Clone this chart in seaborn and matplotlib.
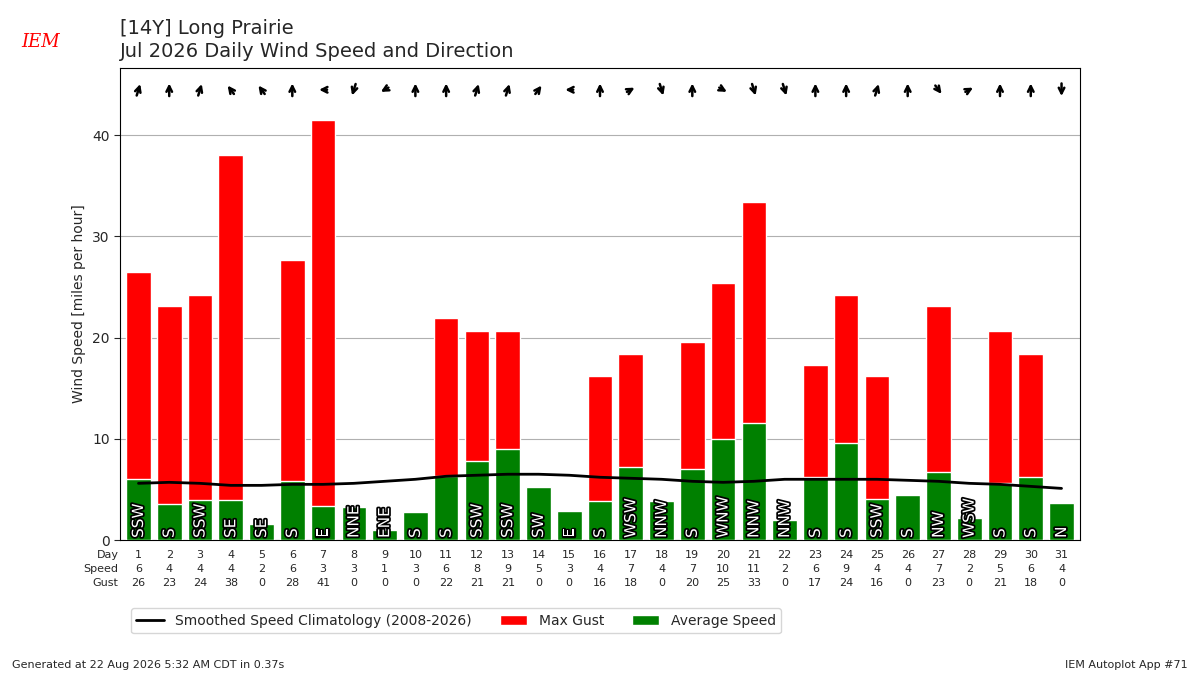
import numpy as np
import pandas as pd
import matplotlib
matplotlib.use("Agg")
import matplotlib.pyplot as plt
import matplotlib.patheffects as pe
import seaborn as sns

days = list(range(1, 32))
avg_speed = [6.0, 3.6, 4.0, 4.0, 1.6, 5.8, 3.4, 3.3, 1.0, 2.8, 6.3, 7.8, 9.0, 5.2, 2.9, 3.9,
             7.2, 3.9, 7.0, 10.0, 11.6, 2.0, 6.2, 9.6, 4.1, 4.4, 6.7, 2.2, 5.6, 6.2, 3.7]
max_gust = [26.5, 23.1, 24.2, 38.1, 0, 27.7, 41.5, 0, 0, 0, 21.9, 20.7, 20.7, 0, 0, 16.2,
            18.4, 0, 19.6, 25.4, 33.4, 0, 17.3, 24.2, 16.2, 0, 23.1, 0, 20.7, 18.4, 0]
clim = [5.6, 5.7, 5.6, 5.4, 5.4, 5.5, 5.5, 5.6, 5.8, 6.0, 6.3, 6.4, 6.5, 6.5, 6.4, 6.2,
        6.1, 6.0, 5.8, 5.7, 5.8, 6.0, 6.0, 6.0, 6.0, 5.9, 5.8, 5.6, 5.5, 5.3, 5.1]
directions = ["SSW", "S", "SSW", "SE", "SE", "S", "E", "NNE", "ENE", "S", "S", "SSW", "SSW", "SW",
              "E", "S", "WSW", "NNW", "S", "WNW", "NNW", "NNW", "S", "S", "SSW", "S", "NW",
              "WSW", "S", "S", "N"]
speed_lbl = [6, 4, 4, 4, 2, 6, 3, 3, 1, 3, 6, 8, 9, 5, 3, 4, 7, 4, 7, 10, 11, 2, 6, 9, 4, 4, 7, 2, 5, 6, 4]
gust_lbl = [26, 23, 24, 38, 0, 28, 41, 0, 0, 0, 22, 21, 21, 0, 0, 16, 18, 0, 20, 25, 33, 0, 17, 24, 16,
            0, 23, 0, 21, 18, 0]

compass = ["N", "NNE", "NE", "ENE", "E", "ESE", "SE", "SSE", "S", "SSW", "SW", "WSW", "W", "WNW", "NW", "NNW"]

df = pd.DataFrame({"day": days, "avg": avg_speed, "gust": max_gust, "clim": clim})

sns.set_style("white")
plt.rcParams["font.family"] = ["DejaVu Sans"]
fig = plt.figure(figsize=(12, 6.75), dpi=100)
ax = fig.add_axes([0.1, 0.2, 0.8, 0.7])

sns.barplot(data=df, x="day", y="gust", color="red", saturation=1, width=0.8, ax=ax,
            label="Max Gust", zorder=2)
sns.barplot(data=df, x="day", y="avg", color="green", saturation=1, width=0.8, ax=ax,
            label="Average Speed", zorder=3)
xs = np.arange(len(days))
sns.lineplot(x=xs, y=df["clim"], color="black", lw=2, ax=ax, zorder=4,
             label="Smoothed Speed Climatology (2008-2026)")

for i, d in enumerate(directions):
    ax.text(i, 0.2, d, rotation=90, ha="center", va="bottom", color="white", fontsize=11,
            zorder=5, path_effects=[pe.withStroke(linewidth=2.5, foreground="black")])
    ang = np.deg2rad(compass.index(d) * 22.5 + 180)
    dx, dy = np.sin(ang), np.cos(ang)
    ax.annotate("", xy=(i + 0.22 * dx, 44.5 + 0.9 * dy), xytext=(i - 0.22 * dx, 44.5 - 0.9 * dy),
                arrowprops=dict(arrowstyle="->", lw=1.8, color="black"))

ax.set_xlim(-0.6, len(days) - 0.4)
ax.set_ylim(0, 46.7)
ax.set_yticks([0, 10, 20, 30, 40])
ax.yaxis.grid(True, color="#b0b0b0", zorder=0)
ax.set_axisbelow(True)
ax.set_xticks([])
ax.set_xlabel("")
ax.set_ylabel("Wind Speed [miles per hour]")
for s in ax.spines.values():
    s.set_color("black")
ax.tick_params(axis="y", left=True, length=4)

trans = ax.get_xaxis_transform()
for row, (name, vals) in enumerate([("Day", days), ("Speed", speed_lbl), ("Gust", gust_lbl)]):
    y = -0.032 - row * 0.03
    ax.text(-0.65, y, name, ha="right", va="center", fontsize=8, transform=trans)
    for i, v in enumerate(vals):
        ax.text(i, y, str(v), ha="center", va="center", fontsize=8, transform=trans)

h, l = ax.get_legend_handles_labels()
order = [l.index("Smoothed Speed Climatology (2008-2026)"), l.index("Max Gust"), l.index("Average Speed")]
ax.legend([h[o] for o in order], [l[o] for o in order], loc="upper center", ncol=3,
          bbox_to_anchor=(0.35, -0.13), fontsize=10, frameon=True)

fig.text(0.1, 0.95, "[14Y] Long Prairie", fontsize=14)
fig.text(0.1, 0.915, "Jul 2026 Daily Wind Speed and Direction", fontsize=14)
fig.text(0.018, 0.93, "IEM", fontsize=13, color="red", style="italic", family="serif")
fig.text(0.01, 0.01, "Generated at 22 Aug 2026 5:32 AM CDT in 0.37s", fontsize=8)
fig.text(0.99, 0.01, "IEM Autoplot App #71", fontsize=8, ha="right")

fig.savefig("out.png", dpi=100)
